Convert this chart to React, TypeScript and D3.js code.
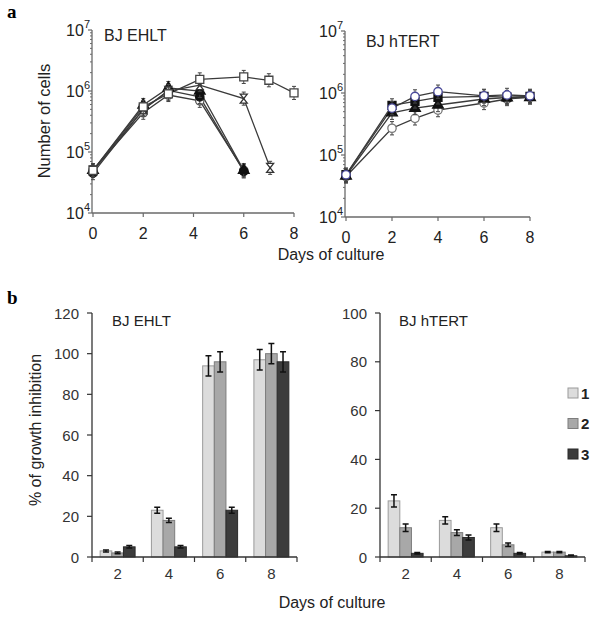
import { useEffect, useRef } from 'react';
import * as d3 from 'd3';

// ---- panel a: cell counts (log scale) ----
const ehltSquares = [
  { day: 0, v: 5e4 }, { day: 2, v: 5.5e5 }, { day: 3, v: 9e5 }, { day: 4.25, v: 1.55e6 },
  { day: 6, v: 1.7e6 }, { day: 7, v: 1.5e6 }, { day: 8, v: 9.3e5 },
];
const ehltHourglass = [
  { day: 0, v: 5e4 }, { day: 2, v: 5e5 }, { day: 3, v: 1e6 }, { day: 4.25, v: 1.25e6 },
  { day: 6, v: 7.5e5 }, { day: 7.05, v: 5.5e4 },
];
const ehltTriangles = [
  { day: 0, v: 5e4 }, { day: 2, v: 5.9e5 }, { day: 3, v: 1.12e6 }, { day: 4.25, v: 1e6 }, { day: 6, v: 5e4 },
];
const ehltOpenCircles = [
  { day: 0, v: 5e4 }, { day: 2, v: 4.4e5 }, { day: 3, v: 8.6e5 }, { day: 4.25, v: 6.9e5 }, { day: 6, v: 5e4 },
];
const ehltDots = [
  { day: 0, v: 4.5e4 }, { day: 2, v: 5e5 }, { day: 3, v: 1.02e6 }, { day: 4.25, v: 8e5 }, { day: 6, v: 4.8e4 },
];

const htertOpenCircles = [
  { day: 0, v: 4.8e4 }, { day: 2, v: 5.7e5 }, { day: 3, v: 8.8e5 }, { day: 4, v: 1.05e6 },
  { day: 6, v: 9e5 }, { day: 7, v: 9.3e5 }, { day: 8, v: 9e5 },
];
const htertSquares = [
  { day: 0, v: 4.8e4 }, { day: 2, v: 6.3e5 }, { day: 3, v: 7.3e5 }, { day: 4, v: 8.5e5 },
  { day: 6, v: 8.8e5 }, { day: 7, v: 8.6e5 }, { day: 8, v: 8.8e5 },
];
const htertTriangles = [
  { day: 0, v: 4.6e4 }, { day: 2, v: 4.8e5 }, { day: 3, v: 5.7e5 }, { day: 4, v: 6.4e5 },
  { day: 6, v: 8e5 }, { day: 7, v: 8.4e5 }, { day: 8, v: 8.5e5 },
];
const htertGrayCircles = [
  { day: 0, v: 4.5e4 }, { day: 2, v: 2.7e5 }, { day: 3, v: 3.9e5 }, { day: 4, v: 5.3e5 },
  { day: 6, v: 6.9e5 }, { day: 7, v: 8e5 }, { day: 8, v: 8.5e5 },
];

const logTicks = [1e4, 1e5, 1e6, 1e7];
const logTickExp = ['4', '5', '6', '7'];
const dayTicks = [0, 2, 4, 6, 8];

// ---- panel b: growth inhibition bars ----
const barDays = ['2', '4', '6', '8'];
const barSeries = ['1', '2', '3'];
const ehltInhib = [[3, 2, 5], [23, 18, 5], [94, 96, 23], [97, 100, 96]];
const ehltInhibErr = [[0.5, 0.4, 0.6], [1.5, 1, 0.6], [5, 5, 1.5], [5, 5, 5]];
const htertInhib = [[23, 12, 1.5], [15, 10, 8], [12, 5, 1.5], [2, 2, 0.5]];
const htertInhibErr = [[2.5, 1.5, 0.3], [1.5, 1.2, 1], [1.5, 0.7, 0.3], [0.3, 0.3, 0.3]];
const ehltTicks = [0, 20, 40, 60, 80, 100, 120];
const htertTicks = [0, 20, 40, 60, 80, 100];
const barFills = ['#dcdcdc', '#a8a8a8', '#3c3c3c'];
const barStrokes = ['#9a9a9a', '#7d7d7d', '#2a2a2a'];

const FONT = 'Liberation Sans, Arial, sans-serif';

export default function App() {
  const ref = useRef<SVGSVGElement>(null);

  useEffect(() => {
    if (!ref.current) return;
    const svg = d3.select(ref.current);
    svg.selectAll('*').remove();

    // panel letters
    svg.append('text').attr('x', 7).attr('y', 18).text('a')
      .style('font-family', 'Liberation Serif, Times New Roman, serif').style('font-weight', 'bold').style('font-size', '19px');
    svg.append('text').attr('x', 7).attr('y', 304).text('b')
      .style('font-family', 'Liberation Serif, Times New Roman, serif').style('font-weight', 'bold').style('font-size', '19px');

    const markerPath = (shape: string) => {
      if (shape === 'square') return d3.symbol(d3.symbolSquare, 64)();
      if (shape === 'triangle') return d3.symbol(d3.symbolTriangle, 50)();
      if (shape === 'hourglass') return 'M-3.5,-4.5L3.5,-4.5L-3.5,4.5L3.5,4.5Z';
      return d3.symbol(d3.symbolCircle, 55)();
    };

    const drawLogPanel = (
      x0: number, x1: number, yBottom: number, yTop: number, title: string, tx: number, ty: number,
      series: { data: { day: number; v: number }[]; shape: string; fill: string; stroke: string }[],
    ) => {
      const x = d3.scaleLinear().domain([0, 8]).range([x0, x1]);
      const y = d3.scaleLog().domain([1e4, 1e7]).range([yBottom, yTop]);
      const g = svg.append('g');
      const axisCol = '#6a6a6a';

      // y axis line + ticks
      g.append('line').attr('x1', x0 - 1).attr('x2', x0 - 1).attr('y1', yTop).attr('y2', yBottom)
        .attr('stroke', axisCol).attr('stroke-width', 1.3);
      const minor: number[] = [];
      for (let e = 4; e < 7; e++) for (let k = 2; k < 10; k++) minor.push(k * Math.pow(10, e));
      g.selectAll('.minor').data(minor).enter().append('line')
        .attr('x1', x0 - 3).attr('x2', x0 - 1).attr('y1', (d) => y(d)).attr('y2', (d) => y(d))
        .attr('stroke', axisCol).attr('stroke-width', 1);
      g.selectAll('.major').data(logTicks).enter().append('line')
        .attr('x1', x0 - 5).attr('x2', x0 - 1).attr('y1', (d) => y(d)).attr('y2', (d) => y(d))
        .attr('stroke', axisCol).attr('stroke-width', 1.2);
      logTicks.forEach((t, i) => {
        const lab = g.append('text').attr('x', x0 - 3).attr('y', y(t) + 6).attr('text-anchor', 'end')
          .style('font-family', FONT).style('font-size', '16px').style('fill', '#222');
        lab.append('tspan').text('10');
        lab.append('tspan').text(logTickExp[i]).attr('dy', -8).style('font-size', '11px');
      });

      // x axis
      g.append('line').attr('x1', x0 - 1).attr('x2', x1).attr('y1', yBottom).attr('y2', yBottom)
        .attr('stroke', axisCol).attr('stroke-width', 1.3);
      g.selectAll('.xt').data(dayTicks).enter().append('line')
        .attr('x1', (d) => x(d)).attr('x2', (d) => x(d)).attr('y1', yBottom).attr('y2', yBottom + 4)
        .attr('stroke', axisCol).attr('stroke-width', 1.2);
      g.selectAll('.xl').data(dayTicks).enter().append('text')
        .attr('x', (d) => x(d)).attr('y', yBottom + 26).attr('text-anchor', 'middle').text((d) => d)
        .style('font-family', FONT).style('font-size', '16px').style('fill', '#222');

      g.append('text').attr('x', tx).attr('y', ty).text(title)
        .style('font-family', FONT).style('font-size', '16px').style('fill', '#222');

      const line = d3.line<{ day: number; v: number }>().x((d) => x(d.day)).y((d) => y(d.v));
      series.forEach((s) => {
        g.append('path').datum(s.data).attr('d', line).attr('fill', 'none')
          .attr('stroke', '#3a3a3a').attr('stroke-width', 1.3);
      });
      series.forEach((s) => {
        // error bars
        g.selectAll(null).data(s.data).enter().append('path')
          .attr('d', (d) => {
            const cx = x(d.day);
            const lo = y(d.v / 1.28);
            const hi = y(d.v * 1.28);
            return `M${cx},${lo}L${cx},${hi}M${cx - 2},${lo}L${cx + 2},${lo}M${cx - 2},${hi}L${cx + 2},${hi}`;
          })
          .attr('stroke', '#444').attr('stroke-width', 1).attr('fill', 'none');
        g.selectAll(null).data(s.data).enter().append('path')
          .attr('d', markerPath(s.shape))
          .attr('transform', (d) => `translate(${x(d.day)},${y(d.v)})`)
          .attr('fill', s.fill).attr('stroke', s.stroke).attr('stroke-width', 1.3);
      });
    };

    drawLogPanel(93, 294, 213, 30, 'BJ EHLT', 104, 41, [
      { data: ehltOpenCircles, shape: 'circle', fill: '#fff', stroke: '#555' },
      { data: ehltDots, shape: 'circle', fill: '#111', stroke: '#111' },
      { data: ehltTriangles, shape: 'triangle', fill: '#111', stroke: '#111' },
      { data: ehltHourglass, shape: 'hourglass', fill: '#fff', stroke: '#333' },
      { data: ehltSquares, shape: 'square', fill: '#fff', stroke: '#444' },
    ]);
    drawLogPanel(346, 530, 217, 31, 'BJ hTERT', 366, 47, [
      { data: htertGrayCircles, shape: 'circle', fill: '#fff', stroke: '#777' },
      { data: htertTriangles, shape: 'triangle', fill: '#111', stroke: '#111' },
      { data: htertSquares, shape: 'square', fill: '#111', stroke: '#111' },
      { data: htertOpenCircles, shape: 'circle', fill: '#fff', stroke: '#4a4a9a' },
    ]);

    svg.append('text').attr('x', 331).attr('y', 260).attr('text-anchor', 'middle').text('Days of culture')
      .style('font-family', FONT).style('font-size', '16px').style('fill', '#222');
    svg.append('text').attr('transform', 'translate(50,121) rotate(-90)').attr('text-anchor', 'middle')
      .text('Number of cells').style('font-family', FONT).style('font-size', '16.5px').style('fill', '#222');

    const drawBarPanel = (
      x0: number, x1: number, yMax: number, ticks: number[], vals: number[][], errs: number[][],
      title: string, tx: number,
    ) => {
      const y0 = 557;
      const y = d3.scaleLinear().domain([0, yMax]).range([y0, 313]);
      const x = d3.scaleBand().domain(barDays).range([x0, x1]).padding(0);
      const xs = d3.scaleBand().domain(barSeries).range([0, x.bandwidth()]).paddingInner(0).paddingOuter(0.7);
      const g = svg.append('g');
      const axisCol = '#333';

      g.append('line').attr('x1', x0).attr('x2', x0).attr('y1', 313).attr('y2', y0)
        .attr('stroke', axisCol).attr('stroke-width', 1.3);
      g.selectAll(null).data(ticks).enter().append('line')
        .attr('x1', x0 - 5).attr('x2', x0).attr('y1', (d) => y(d)).attr('y2', (d) => y(d))
        .attr('stroke', axisCol).attr('stroke-width', 1.2);
      g.selectAll(null).data(ticks).enter().append('text')
        .attr('x', x0 - 13).attr('y', (d) => y(d) + 5.5).attr('text-anchor', 'end').text((d) => d)
        .style('font-family', FONT).style('font-size', '15px').style('fill', '#333');

      barDays.forEach((day, i) => {
        const bx = x(day)!;
        barSeries.forEach((s, j) => {
          const v = vals[i][j];
          const e = errs[i][j];
          const left = bx + xs(s)!;
          const w = xs.bandwidth();
          g.append('rect').attr('x', left).attr('y', y(v)).attr('width', w).attr('height', y0 - y(v))
            .attr('fill', barFills[j]).attr('stroke', barStrokes[j]).attr('stroke-width', 1);
          const cx = left + w / 2;
          g.append('path')
            .attr('d', `M${cx},${y(v - e)}L${cx},${y(v + e)}M${cx - 3},${y(v - e)}L${cx + 3},${y(v - e)}M${cx - 3},${y(v + e)}L${cx + 3},${y(v + e)}`)
            .attr('stroke', '#111').attr('stroke-width', 1.5).attr('fill', 'none');
        });
      });

      g.append('line').attr('x1', x0).attr('x2', x1).attr('y1', y0).attr('y2', y0)
        .attr('stroke', axisCol).attr('stroke-width', 1.3);
      const bounds = barDays.map((d) => x(d)!).concat([x1]);
      g.selectAll(null).data(bounds).enter().append('line')
        .attr('x1', (d) => d).attr('x2', (d) => d).attr('y1', y0).attr('y2', y0 + 5)
        .attr('stroke', axisCol).attr('stroke-width', 1.2);
      g.selectAll(null).data(barDays).enter().append('text')
        .attr('x', (d) => x(d)! + x.bandwidth() / 2).attr('y', y0 + 22).attr('text-anchor', 'middle').text((d) => d)
        .style('font-family', FONT).style('font-size', '15px').style('fill', '#333');

      g.append('text').attr('x', tx).attr('y', 326).text(title)
        .style('font-family', FONT).style('font-size', '15px').style('fill', '#222');
    };

    drawBarPanel(92, 297, 120, ehltTicks, ehltInhib, ehltInhibErr, 'BJ EHLT', 112);
    drawBarPanel(380, 585, 100, htertTicks, htertInhib, htertInhibErr, 'BJ hTERT', 399);

    // legend
    barSeries.forEach((s, j) => {
      const ly = 393 + j * 30.5;
      svg.append('rect').attr('x', 568).attr('y', ly - 5).attr('width', 10).attr('height', 10)
        .attr('fill', barFills[j]).attr('stroke', barStrokes[j]).attr('stroke-width', 1);
      svg.append('text').attr('x', 581).attr('y', ly + 5.5).text(s)
        .style('font-family', FONT).style('font-size', '15px').style('font-weight', 'bold').style('fill', '#222');
    });

    svg.append('text').attr('x', 332).attr('y', 608).attr('text-anchor', 'middle').text('Days of culture')
      .style('font-family', FONT).style('font-size', '16px').style('fill', '#222');
    svg.append('text').attr('transform', 'translate(41,430) rotate(-90)').attr('text-anchor', 'middle')
      .text('% of growth inhibition').style('font-family', FONT).style('font-size', '16px').style('fill', '#222');
  }, []);

  return (
    <div style={{ position: 'absolute', left: 0, top: 0 }}>
      <svg ref={ref} width={600} height={621} style={{ display: 'block', background: '#fff' }} />
    </div>
  );
}
